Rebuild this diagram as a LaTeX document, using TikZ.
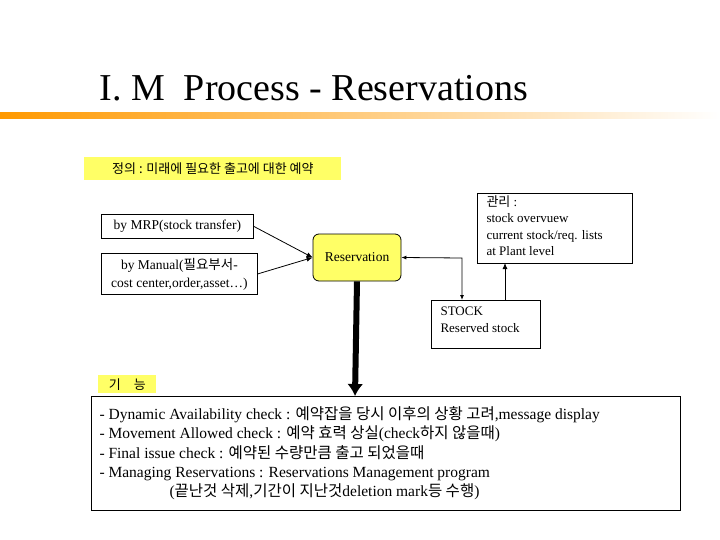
\documentclass[tikz,border=0pt]{standalone}
\usepackage{fontspec}
\usetikzlibrary{arrows.meta}
\setmainfont{Liberation Serif}
\newfontfamily\kr{Noto Sans CJK KR}
\newcommand{\kor}[1]{{\kr #1}}
\definecolor{ylw}{RGB}{255,255,102}
\begin{document}
\begin{tikzpicture}[x=1pt,y=-1pt,
  box/.style={draw,thick,inner sep=0pt,anchor=north west},
  txt/.style={font=\fontsize{13.5}{15}\selectfont,align=left},
  arr/.style={-{Latex[length=6pt,width=5pt]},thick}]
\useasboundingbox (0,0) rectangle (720,540);
\node[font=\fontsize{38}{42}\selectfont,anchor=west] (title) at (96,88) {I. M\ \ Process - Reservations};
\shade[left color=orange!80!yellow, right color=white] (0,113) rectangle (720,119);
\node[box,draw=none,fill=ylw,minimum width=257,minimum height=23] (def) at (84,157) {};
\node[font=\kr\fontsize{13}{15}\selectfont] at (def.center) {정의 : 미래에 필요한 출고에 대한 예약};
\node[box,minimum width=152,minimum height=24] (mrp) at (101,214) {};
\node[txt] at (mrp.center) {by MRP(stock transfer)};
\node[box,minimum width=156,minimum height=41] (man) at (101,253) {};
\node[txt,align=center,font=\fontsize{13.5}{18}\selectfont] at (man.center) {by Manual(\kor{필요부서}-\\cost center,order,asset…)};
\node[draw,thick,fill=ylw,rounded corners=6pt,minimum width=88,minimum height=47,txt] (res) at (357,257.5) {Reservation};
\node[box,minimum width=155,minimum height=70] (mgr) at (477,193) {};
\node[txt,anchor=north west,font=\fontsize{13}{16.5}\selectfont] at (483,192) {\kor{관리} :\\stock overvuew\\current stock/req. lists\\at Plant level};
\node[box,minimum width=109,minimum height=48] (stk) at (431,300) {};
\node[txt,anchor=north west,font=\fontsize{13}{17}\selectfont] at (437,303) {STOCK\\ Reserved stock};
\node[box,draw=none,fill=ylw,minimum width=58,minimum height=18] (fn) at (98,375) {};
\node[font=\kr\fontsize{13}{15}\selectfont] at (fn.center) {기\quad 능};
\node[box,minimum width=589,minimum height=114] (big) at (91,396) {};
\node[anchor=north west,align=left,font=\fontsize{15.5}{19.3}\selectfont] at (96,403) {- Dynamic Availability check : \kor{예약잡을 당시 이후의 상황 고려},message display\\- Movement Allowed check : \kor{예약 효력 상실}(check\kor{하지 않을때})\\- Final issue check : \kor{예약된 수량만큼 출고 되었을때}\\- Managing Reservations : Reservations Management program\\\hspace{70pt}(\kor{끝난것 삭제},\kor{기간이 지난것}deletion mark\kor{등 수행})};
\coordinate (c1) at (462,258);
\draw[arr] (mrp.east) -- (res.west);
\draw[arr] (man.east) -- (res.west);
\draw[{Latex[length=5pt,width=4pt]}-{Latex[length=5pt,width=4pt]},thick] (res.east) -- (c1) -- (462,300);
\draw[arr] (505,300) -- (505,263);
\draw[line width=6pt,-{Latex[length=12pt,width=16pt]}] (res.south) -- (355,396);
\end{tikzpicture}
\end{document}
